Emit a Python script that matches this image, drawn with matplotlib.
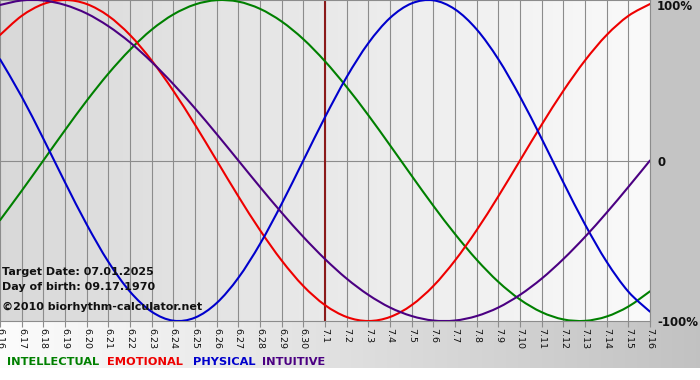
import numpy as np
import matplotlib
matplotlib.use("Agg")
import matplotlib.pyplot as plt
from matplotlib.path import Path
from matplotlib.patches import PathPatch

# Tagesbeschriftungen (x-Achse)
tage = ["6.16", "6.17", "6.18", "6.19", "6.20", "6.21", "6.22", "6.23", "6.24",
        "6.25", "6.26", "6.27", "6.28", "6.29", "6.30", "7.1", "7.2", "7.3",
        "7.4", "7.5", "7.6", "7.7", "7.8", "7.9", "7.10", "7.11", "7.12",
        "7.13", "7.14", "7.15", "7.16"]

# Werte je Tag (-1 .. 1)
intellektuell = [-0.372, -0.189, 0.000, 0.189, 0.372, 0.541, 0.690, 0.815, 0.910, 0.972,
                 0.999, 0.990, 0.945, 0.866, 0.756, 0.618, 0.458, 0.282, 0.095, -0.095,
                 -0.282, -0.458, -0.618, -0.756, -0.866, -0.945, -0.990, -0.999, -0.972,
                 -0.910, -0.815]
emotional = [0.782, 0.901, 0.975, 1.000, 0.975, 0.901, 0.782, 0.623, 0.434, 0.223,
             0.000, -0.223, -0.434, -0.623, -0.782, -0.901, -0.975, -1.000, -0.975, -0.901,
             -0.782, -0.623, -0.434, -0.223, 0.000, 0.223, 0.434, 0.623, 0.782, 0.901,
             0.975]
physisch = [0.631, 0.398, 0.136, -0.136, -0.398, -0.631, -0.817, -0.942, -0.998, -0.979,
            -0.888, -0.731, -0.520, -0.270, 0.000, 0.270, 0.520, 0.731, 0.888, 0.979,
            0.998, 0.942, 0.817, 0.631, 0.398, 0.136, -0.136, -0.398, -0.631, -0.817,
            -0.942]
intuitiv = [0.969, 0.997, 0.997, 0.969, 0.916, 0.837, 0.736, 0.614, 0.476, 0.325,
            0.165, 0.000, -0.165, -0.325, -0.476, -0.614, -0.736, -0.837, -0.916, -0.969,
            -0.997, -0.997, -0.969, -0.916, -0.837, -0.736, -0.614, -0.476, -0.325, -0.165,
            0.000]

ziel_index = 15  # 7.1

W, H = 700, 380
fig = plt.figure(figsize=(7, 3.8), dpi=100)
fig.patch.set_facecolor("white")

# Hintergrund in Pixelkoordinaten
bg = fig.add_axes([0, 0, 1, 1], zorder=-10)
bg.axis("off")

def verlauf(c0, c1, n=256):
    g = np.linspace(c0, c1, n)
    return np.dstack([g, g, g]).reshape(1, n, 3)

bg.imshow(verlauf(0.85, 0.98), extent=[0, 650, 321, 0], aspect="auto", interpolation="bilinear")
bg.imshow(verlauf(0.77, 0.77, 2), extent=[650, 700, 321, 0], aspect="auto")
bg.imshow(verlauf(0.99, 0.76), extent=[0, 700, 368, 321], aspect="auto", interpolation="bilinear")
bg.set_xlim(0, W)
bg.set_ylim(H, 0)

# Diagramm
ax = fig.add_axes([0, 1 - 321 / H, 650 / W, 321 / H])
ax.set_facecolor("none")
x = np.arange(len(tage))
ax.set_xlim(0, len(tage) - 1)
ax.set_ylim(-1, 1)

for xi in x:
    ax.axvline(xi, color="#8c8c8c", lw=0.8, zorder=1)
ax.axhline(0, color="#8c8c8c", lw=0.8, zorder=1)
ax.axvline(ziel_index, color="#8b1a1a", lw=1.5, zorder=2)


def glatte_linie(ax, xs, ys, farbe):
    # Kurve als Bezier-Pfad durch die Tageswerte (Catmull-Rom-Stil)
    xs = np.asarray(xs, float)
    ys = np.asarray(ys, float)
    verts = [(xs[0], ys[0])]
    codes = [Path.MOVETO]
    n = len(xs)
    for i in range(n - 1):
        i0 = max(i - 1, 0)
        i3 = min(i + 2, n - 1)
        c1 = (xs[i] + (xs[i + 1] - xs[i0]) / 6, ys[i] + (ys[i + 1] - ys[i0]) / 6)
        c2 = (xs[i + 1] - (xs[i3] - xs[i]) / 6, ys[i + 1] - (ys[i3] - ys[i]) / 6)
        verts += [c1, c2, (xs[i + 1], ys[i + 1])]
        codes += [Path.CURVE4] * 3
    patch = PathPatch(Path(verts, codes), facecolor="none", edgecolor=farbe,
                      lw=1.5, zorder=3, capstyle="round", joinstyle="round")
    ax.add_patch(patch)


glatte_linie(ax, x, intellektuell, "#008000")
glatte_linie(ax, x, emotional, "#ee0000")
glatte_linie(ax, x, physisch, "#0000cc")
glatte_linie(ax, x, intuitiv, "#4b0082")

for s in ax.spines.values():
    s.set_color("#8c8c8c")
    s.set_linewidth(0.8)
ax.spines["left"].set_visible(False)

ax.set_yticks([])
ax.set_xticks(x)
ax.set_xticklabels(tage, rotation=-90, fontsize=6.8, color="#111111")
ax.tick_params(axis="x", length=4, color="#8c8c8c", pad=1)

# Texte
def ftext(px, py, s, **kw):
    fig.text(px / W, 1 - py / H, s, va="center", ha="left", fontweight="bold", **kw)

ftext(2, 272, "Target Date: 07.01.2025", fontsize=8, color="#111111")
ftext(2, 287, "Day of birth: 09.17.1970", fontsize=8, color="#111111")
ftext(2, 307, "\u00a92010 biorhythm-calculator.net", fontsize=8, color="#111111")

ftext(657, 7, "100%", fontsize=8.5, color="#111111")
ftext(658, 162, "0", fontsize=8.5, color="#111111")
ftext(657, 322, "-100%", fontsize=8.5, color="#111111")

ftext(7, 362, "INTELLECTUAL", fontsize=8.2, color="#008000")
ftext(107, 362, "EMOTIONAL", fontsize=8.2, color="#ee0000")
ftext(193, 362, "PHYSICAL", fontsize=8.2, color="#0000cc")
ftext(262, 362, "INTUITIVE", fontsize=8.2, color="#4b0082")

fig.savefig("out.png", dpi=100)
